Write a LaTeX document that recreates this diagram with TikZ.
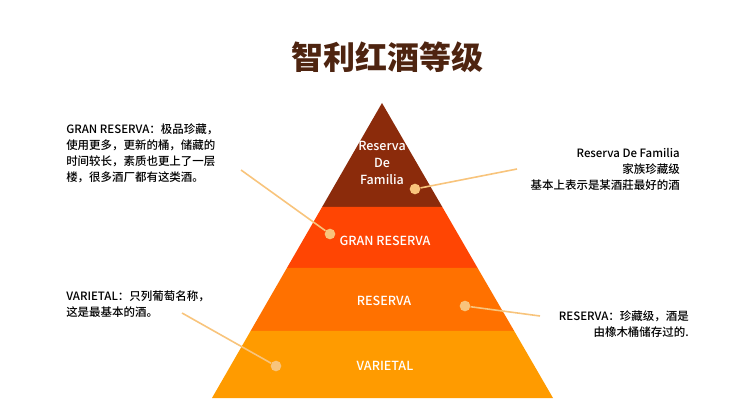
\documentclass[tikz,border=0pt]{standalone}
\usepackage{fontspec}
\setmainfont{Noto Sans CJK SC}
\newfontfamily\titlefont{Noto Sans CJK SC Black}
\newfontfamily\medfont{Noto Sans CJK SC Medium}
\begin{document}
\begin{tikzpicture}[x=0.75pt,y=-0.75pt,
  lbl/.style={font=\medfont\fontsize{8.6}{12}\selectfont,text=black,inner sep=0pt},
  tier/.style={font=\medfont\fontsize{9.4}{12.4}\selectfont,text=white,inner sep=0pt,align=center},
  lead/.style={draw=ld,line width=1.2pt},
  dot/.style={circle,fill=ld,inner sep=0pt,minimum size=8pt}]
\useasboundingbox (0,0) rectangle (750,420);
\definecolor{c1}{HTML}{8B2B0B}\definecolor{c2}{HTML}{FF4503}
\definecolor{c3}{HTML}{FF7100}\definecolor{c4}{HTML}{FF9B00}
\definecolor{ld}{HTML}{F8C47C}
\definecolor{tt}{HTML}{4E2410}
\fill[c1] (382,103) -- (442.3,207) -- (322.1,207) -- cycle;
\fill[c2] (322.1,207) -- (442.3,207) -- (477.6,268) -- (286.9,268) -- cycle;
\fill[c3] (286.9,268) -- (477.6,268) -- (514.2,331) -- (250.6,331) -- cycle;
\fill[c4] (250.6,331) -- (514.2,331) -- (553,398) -- (212,398) -- cycle;
\node[tier] (t1) at (382,163) {Reserva\\De\\Familia};
\node[tier] (t2) at (385,241) {GRAN RESERVA};
\node[tier] (t3) at (384,301) {RESERVA};
\node[tier] (t4) at (385,366) {VARIETAL};
\node[font=\titlefont\fontsize{24}{30}\selectfont,text=tt] (title) at (387,57) {智利红酒等级};
\node[lbl,anchor=north west,align=left] (lg) at (66,124) {GRAN RESERVA：极品珍藏，\\使用更多，更新的桶，储藏的\\时间较长，素质也更上了一层\\楼，很多酒厂都有这类酒。};
\node[lbl,anchor=north west,align=left] (lv) at (66,291) {VARIETAL：只列葡萄名称，\\这是最基本的酒。};
\node[lbl,anchor=north east,align=right] (lf) at (680,148) {Reserva De Familia\\家族珍藏级\\基本上表示是某酒莊最好的酒};
\node[lbl,anchor=north east,align=right] (lr) at (689,311) {RESERVA：珍藏级，酒是\\由橡木桶储存过的.};
\coordinate (ag) at (241,170); \coordinate (av) at (182,313);
\coordinate (af) at (517,169); \coordinate (ar) at (540,316);
\node[dot] (dg) at (330,234) {}; \node[dot] (dv) at (276,366) {};
\node[dot] (df) at (415,189) {}; \node[dot] (dr) at (465,306) {};
\draw[lead] (ag) -- (dg); \draw[lead] (av) -- (dv);
\draw[lead] (af) -- (df); \draw[lead] (ar) -- (dr);
\end{tikzpicture}
\end{document}
